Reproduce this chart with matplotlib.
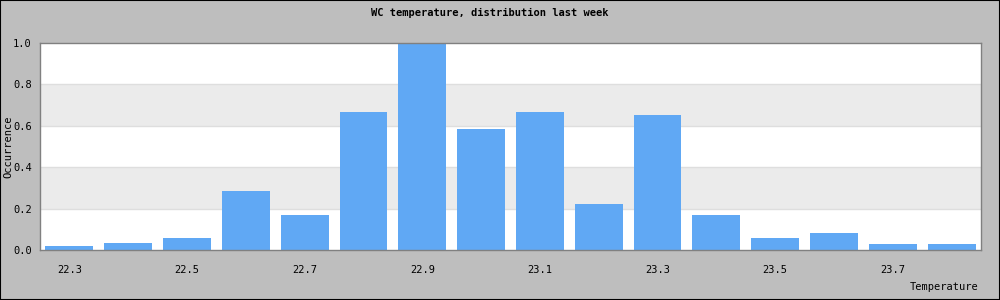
import matplotlib
matplotlib.use('Agg')
import matplotlib.pyplot as plt
import numpy as np

temperatures = ['22.3', '22.4', '22.5', '22.6', '22.7', '22.8', '22.9', '23.0',
                '23.1', '23.2', '23.3', '23.4', '23.5', '23.6', '23.7', '23.8']
occurrence = [0.017, 0.033, 0.06, 0.283, 0.17, 0.667, 1.0, 0.585,
              0.667, 0.22, 0.652, 0.17, 0.06, 0.083, 0.03, 0.03]
y_ticks = [0.0, 0.2, 0.4, 0.6, 0.8, 1.0]

plt.rcParams['font.family'] = 'DejaVu Sans Mono'

fig = plt.figure(figsize=(10, 3), dpi=100, facecolor='#bebebe')
ax = fig.add_axes([0.04, 1 - 250 / 300, 0.941, 207 / 300])
ax.set_facecolor('white')

# alternating bands
for i in range(len(y_ticks) - 1):
    if i % 2 == 1:
        ax.axhspan(y_ticks[i], y_ticks[i + 1], color='#ebebeb', zorder=0, lw=0)
for y in y_ticks[1:-1]:
    ax.axhline(y, color='#dedede', lw=1, zorder=0.5)

x = np.arange(len(temperatures))
ax.bar(x, occurrence, width=0.815, color='#60a8f4', zorder=2)

ax.set_xlim(-0.5, len(temperatures) - 0.5)
ax.set_ylim(0, 1.0)
ax.set_yticks(y_ticks)
ax.set_yticklabels(['%.1f' % v for v in y_ticks], fontsize=7.5)
ax.set_xticks(x[::2])
ax.set_xticklabels(temperatures[::2], fontsize=7.5)
ax.tick_params(axis='x', length=0, pad=11)
ax.tick_params(axis='y', length=0, pad=6)

for s in ax.spines.values():
    s.set_color('#808080')
    s.set_linewidth(1)

ax.set_ylabel('Occurrence', fontsize=7.5)
ax.yaxis.set_label_coords(-0.0285, 0.5)
fig.text(0.978, 1 - 287 / 300, 'Temperature', fontsize=7.5, ha='right', va='center')
fig.text(0.49, 1 - 13 / 300, 'WC temperature, distribution last week',
         fontsize=7.5, fontweight='bold', ha='center', va='center')

# outer border
fig.patches.append(plt.Rectangle((0, 0), 1, 1, transform=fig.transFigure,
                                 fill=False, edgecolor='black', lw=1.5))

fig.savefig('out.png', dpi=100, facecolor=fig.get_facecolor())
